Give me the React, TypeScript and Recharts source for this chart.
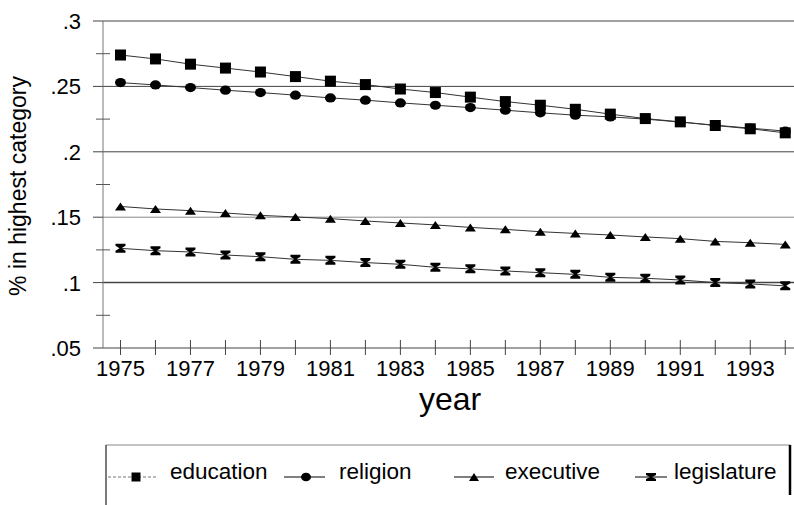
import {
  LineChart,
  Line,
  XAxis,
  YAxis,
  ReferenceLine,
  Legend,
  Label,
} from "recharts";

const FONT = "'Liberation Sans', Arial, sans-serif";

const years = [1975, 1976, 1977, 1978, 1979, 1980, 1981, 1982, 1983, 1984, 1985, 1986, 1987, 1988, 1989, 1990, 1991, 1992, 1993, 1994];
const education = [0.274, 0.271, 0.267, 0.264, 0.261, 0.2575, 0.254, 0.2514, 0.248, 0.2453, 0.2418, 0.2384, 0.2356, 0.2325, 0.2288, 0.2254, 0.2229, 0.2201, 0.2176, 0.2145];
const religion = [0.2529, 0.2511, 0.2491, 0.2471, 0.2453, 0.2433, 0.2412, 0.2395, 0.2374, 0.2356, 0.2338, 0.2318, 0.2298, 0.228, 0.2267, 0.225, 0.2227, 0.2203, 0.2181, 0.2158];
const executive = [0.1582, 0.1563, 0.155, 0.1532, 0.1514, 0.1502, 0.1489, 0.1471, 0.1456, 0.1441, 0.1422, 0.1407, 0.1389, 0.1376, 0.1364, 0.1349, 0.1336, 0.1315, 0.1305, 0.1292];
const legislature = [0.1262, 0.1244, 0.1234, 0.1211, 0.1198, 0.1178, 0.117, 0.1153, 0.114, 0.1117, 0.1105, 0.1089, 0.1076, 0.1063, 0.104, 0.1033, 0.102, 0.1, 0.099, 0.0975];

const majorTicks = [0.05, 0.1, 0.15, 0.2, 0.25, 0.3];
const minorTicks = [0.075, 0.125, 0.175, 0.225, 0.275];
const labelledYears = [1975, 1977, 1979, 1981, 1983, 1985, 1987, 1989, 1991, 1993];

const rows = years.map((year, i) => ({
  year,
  education: education[i],
  religion: religion[i],
  executive: executive[i],
  legislature: legislature[i],
}));

const fmtY = (v: number) => String(v).replace(/^0/, "");

// marker shapes
function Square({ cx, cy, s = 11 }: any) {
  return <rect x={cx - s / 2} y={cy - s / 2} width={s} height={s} fill="#000" />;
}
function Circle({ cx, cy, rx = 5.5, ry = 4.6 }: any) {
  return <ellipse cx={cx} cy={cy} rx={rx} ry={ry} fill="#000" />;
}
function Triangle({ cx, cy, w = 11, h = 8 }: any) {
  return (
    <path
      d={`M${cx - w / 2},${cy + h / 2} L${cx + w / 2},${cy + h / 2} L${cx},${cy - h / 2} Z`}
      fill="#000"
    />
  );
}
function Hourglass({ cx, cy, w = 10, h = 9 }: any) {
  const hw = w / 2;
  const hh = h / 2;
  return (
    <path
      d={`M${cx - hw},${cy - hh} h${w} v2 l${-hw + 1},${hh - 2} l${hw - 1},${hh - 2} v2 h${-w} v-2 l${hw - 1},${-hh + 2} l${-hw + 1},${-hh + 2} Z`}
      fill="#000"
    />
  );
}

const dotOf = (Shape: any) => (props: any) => {
  if (props.cx == null || props.cy == null) return <g key={`e-${props.index}`} />;
  return <Shape key={`d-${props.index}`} cx={props.cx} cy={props.cy} />;
};

function YTick(props: any) {
  const { x, y, payload } = props;
  const v = payload.value;
  if (minorTicks.includes(v)) {
    return <line x1={x - 7} x2={x + 7} y1={y} y2={y} stroke="#555" strokeWidth={1} />;
  }
  return (
    <g>
      <line x1={x - 10} x2={x} y1={y} y2={y} stroke="#444" strokeWidth={1} />
      <text x={x - 22} y={y + 8} textAnchor="end" fontSize={22} fontFamily={FONT} fill="#000">
        {fmtY(v)}
      </text>
    </g>
  );
}

function XTick(props: any) {
  const { x, y, payload } = props;
  const v = payload.value;
  return (
    <g>
      <line x1={x} x2={x} y1={y - 8} y2={y + 7} stroke="#444" strokeWidth={1} />
      {labelledYears.includes(v) && (
        <text x={x} y={y + 28} textAnchor="middle" fontSize={22} fontFamily={FONT} fill="#000">
          {v}
        </text>
      )}
    </g>
  );
}

const legendItems = [
  { name: "education", Shape: Square, x1: 108, x2: 157, mx: 136, tx: 170, dash: "3 2", stroke: "#777" },
  { name: "religion", Shape: Circle, x1: 284, x2: 325, mx: 306, tx: 339, dash: undefined, stroke: "#000" },
  { name: "executive", Shape: Triangle, x1: 454, x2: 494, mx: 474, tx: 505, dash: undefined, stroke: "#000" },
  { name: "legislature", Shape: Hourglass, x1: 635, x2: 667, mx: 651, tx: 674, dash: undefined, stroke: "#000" },
];

// legend box is drawn in its own svg; offsets relative to its wrapper
const LX = 105;
const LY = 444;

function LegendBox() {
  return (
    <svg width={690} height={61} style={{ overflow: "visible", display: "block" }}>
      <line x1={1} x2={685} y1={1} y2={1} stroke="#888" strokeWidth={1} />
      <line x1={1} x2={1} y1={1} y2={61} stroke="#222" strokeWidth={1.2} />
      <line x1={685} x2={685} y1={1} y2={51} stroke="#000" strokeWidth={2.5} />
      {legendItems.map((it) => (
        <g key={it.name}>
          <line
            x1={it.x1 - LX}
            x2={it.x2 - LX}
            y1={477 - LY}
            y2={477 - LY}
            stroke={it.stroke}
            strokeWidth={1}
            strokeDasharray={it.dash}
          />
          <it.Shape cx={it.mx - LX} cy={477 - LY} s={9} w={10} h={8} rx={5} ry={4.3} />
          <text x={it.tx - LX} y={479 - LY} fontSize={22.5} fontFamily={FONT} fill="#000">
            {it.name}
          </text>
        </g>
      ))}
    </svg>
  );
}

export default function App() {
  return (
    <div style={{ position: "absolute", left: 0, top: 0, width: 794, height: 505, background: "#fff" }}>
      <LineChart width={794} height={505} data={rows} margin={{ top: 21, right: 0, bottom: 0, left: 0 }}>
        <XAxis
          dataKey="year"
          type="number"
          domain={[1974.5, 1994.25]}
          ticks={years}
          interval={0}
          allowDataOverflow
          height={157}
          tickSize={0}
          tickMargin={0}
          tickLine={false}
          axisLine={{ stroke: "#444", strokeWidth: 1 }}
          tick={<XTick />}
        >
          <Label
            content={() => (
              <text x={450} y={410} textAnchor="middle" fontSize={32} fontFamily={FONT} fill="#000">
                year
              </text>
            )}
          />
        </XAxis>
        <YAxis
          type="number"
          domain={[0.05, 0.3]}
          ticks={[...majorTicks, ...minorTicks]}
          interval={0}
          allowDataOverflow
          width={103}
          tickSize={0}
          tickMargin={0}
          tickLine={false}
          axisLine={{ stroke: "#777", strokeWidth: 1 }}
          tick={<YTick />}
        >
          <Label
            content={() => (
              <text
                x={26}
                y={186}
                transform="rotate(-90 26 186)"
                textAnchor="middle"
                fontSize={23}
                fontFamily={FONT}
                fill="#000"
              >
                % in highest category
              </text>
            )}
          />
        </YAxis>
        {majorTicks.slice(1).map((v) => (
          <ReferenceLine
            key={v}
            y={v}
            stroke={v === 0.15 ? "#888" : "#444"}
            strokeWidth={v === 0.1 ? 1.5 : 1}
          />
        ))}
        <Line
          dataKey="education"
          type="linear"
          stroke="#333"
          strokeWidth={1}
          dot={dotOf(Square)}
          isAnimationActive={false}
        />
        <Line
          dataKey="religion"
          type="linear"
          stroke="#333"
          strokeWidth={1}
          dot={dotOf(Circle)}
          isAnimationActive={false}
        />
        <Line
          dataKey="executive"
          type="linear"
          stroke="#333"
          strokeWidth={1}
          dot={dotOf(Triangle)}
          isAnimationActive={false}
        />
        <Line
          dataKey="legislature"
          type="linear"
          stroke="#333"
          strokeWidth={1}
          dot={dotOf(Hourglass)}
          isAnimationActive={false}
        />
        <Legend
          layout="horizontal"
          verticalAlign="middle"
          align="center"
          wrapperStyle={{ left: LX, top: LY, width: 690, height: 61 }}
          content={() => <LegendBox />}
        />
      </LineChart>
    </div>
  );
}
